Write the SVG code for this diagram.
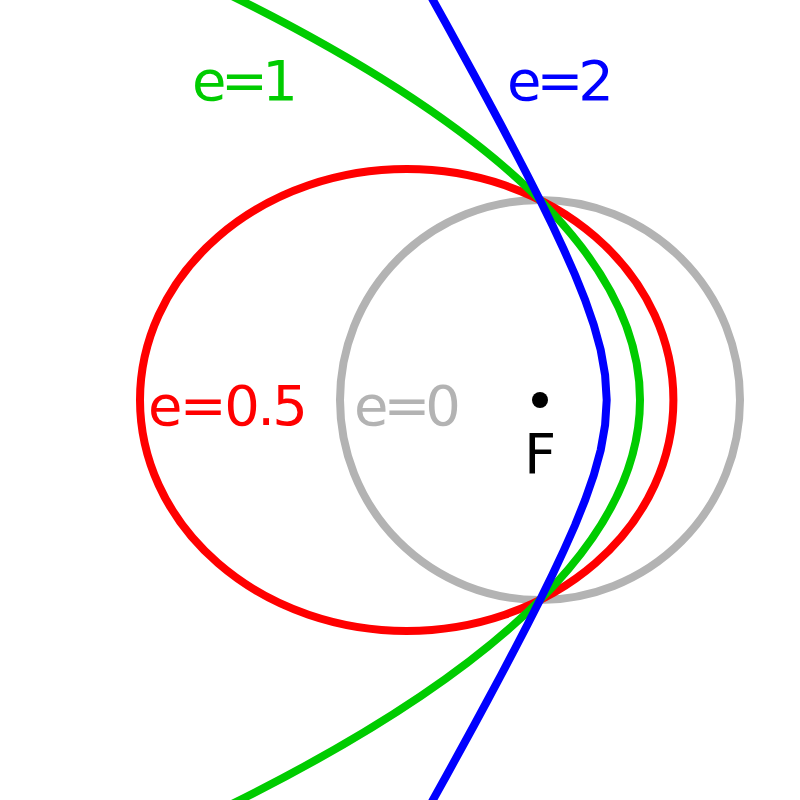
<svg xmlns="http://www.w3.org/2000/svg" width="800" height="800" viewBox="0 0 800 800">
<style>
.c{fill:none;stroke-width:8}
text{font-family:"DejaVu Sans",sans-serif;font-size:56px}
</style>
<rect width="800" height="800" fill="#fff"/>
<g id="connectors">
<circle id="e0" class="c" stroke="#b3b3b3" cx="540" cy="400" r="200"/>
<ellipse id="e05" class="c" stroke="#f00" cx="406.7" cy="400" rx="266.7" ry="230.9"/>
<path id="e1" class="c" stroke="#0c0" d="M199,-20 Q1081,400 199,820"/>
<polyline id="e2" class="c" stroke="#00f" points="427.4,-10 432.9,0 446.8,25 460.5,50 474.2,75 487.7,100 501.1,125 514.3,150 527.3,175 540,200 552.3,225 564,250 575.1,275 585.1,300 593.8,325 600.7,350 605.1,375 606.7,400 605.1,425 600.7,450 593.8,475 585.1,500 575.1,525 564,550 552.3,575 540,600 527.3,625 514.3,650 501.1,675 487.7,700 474.2,725 460.5,750 446.8,775 432.9,800 427.4,810"/>
</g>
<g id="F"><circle cx="540" cy="400" r="8"/><text x="540" y="473" text-anchor="middle">F</text></g>
<g id="labels">
<text x="192" y="100" fill="#0c0" textLength="106">e=1</text>
<text x="507" y="100" fill="#00f" textLength="107">e=2</text>
<text x="148" y="425" fill="#f00" textLength="160">e=0.5</text>
<text x="354" y="425" fill="#b3b3b3" textLength="107">e=0</text>
</g>
</svg>
